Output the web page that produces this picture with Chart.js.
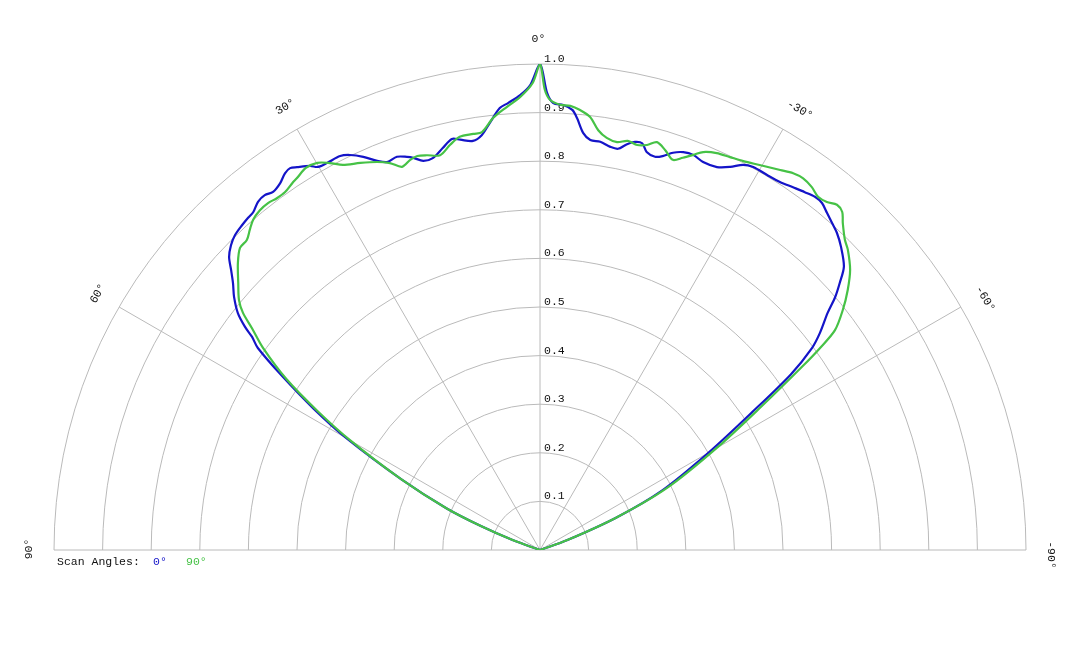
<!DOCTYPE html>
<html><head><meta charset="utf-8">
<script src="https://cdn.jsdelivr.net/npm/chart.js@4.4.0/dist/chart.umd.min.js"></script>
<style>html,body{margin:0;padding:0;background:#fff;}canvas{display:block;}</style>
</head><body>
<canvas id="c" width="1080" height="648"></canvas>
<script>
// ---- data ----
const ringValues = [0.1,0.2,0.3,0.4,0.5,0.6,0.7,0.8,0.9,1.0];
const ringLabels = ['0.1','0.2','0.3','0.4','0.5','0.6','0.7','0.8','0.9','1.0'];
const spokeAngles = [-90,-60,-30,0,30,60,90];
const angleLabels = ['-90°','-60°','-30°','0°','30°','60°','90°'];
const legendTitle = 'Scan Angles:';
const seriesNames = ['0°','90°'];

// scan angle 0° (blue): polar angle (deg, positive = left) and relative intensity
const scan0Angles = [-90,-72,-70,-67,-64,-60,-57,-55,-53.4,-52.2,-50.5,-49.4,-48.3,-47.0,-44.8,-43.1,-41.8,-40.4,-39.1,-37.9,-36.5,-34.9,-33.1,-31.2,-29.1,-27.8,-26.4,-24.8,-22.8,-21.2,-19.8,-18.5,-17.3,-16.3,-15.0,-14.1,-13.1,-12.1,-11.0,-9.9,-8.4,-7.0,-5.9,-4.9,-4.2,-3.0,-1.7,-0.9,0,1.2,2.5,4.1,5.2,6.7,8.0,9.3,11.0,12.1,13.6,15.3,16.7,17.9,18.7,20.0,21.5,22.7,24.2,25.7,26.9,28.8,30.1,30.9,32.4,33.2,34.1,35.3,36.7,37.8,39.0,40.3,41.3,42.5,44.1,45.4,46.7,47.8,49.0,50.4,51.9,52.9,53.5,54.4,56,58,60,63,66,68,70,72,90];
const scan0R = [0,0,0.06,0.17,0.28,0.40,0.52,0.63,0.697,0.729,0.767,0.800,0.826,0.855,0.879,0.894,0.902,0.911,0.920,0.921,0.916,0.910,0.904,0.902,0.902,0.896,0.880,0.868,0.866,0.872,0.870,0.862,0.849,0.843,0.848,0.863,0.862,0.854,0.841,0.842,0.849,0.850,0.863,0.892,0.908,0.917,0.920,0.940,1.0,0.957,0.937,0.922,0.913,0.885,0.862,0.853,0.860,0.865,0.851,0.836,0.836,0.848,0.854,0.861,0.858,0.868,0.887,0.902,0.909,0.909,0.911,0.921,0.933,0.939,0.936,0.925,0.919,0.924,0.922,0.912,0.910,0.907,0.902,0.893,0.879,0.858,0.837,0.817,0.790,0.761,0.737,0.714,0.64,0.55,0.46,0.32,0.21,0.13,0.06,0,0];

// scan angle 90° (green)
const scan90Angles = [-90,-72,-70,-67,-64,-60,-57,-55,-54.2,-53.3,-51.6,-49.8,-47.9,-45.7,-44.5,-42.8,-41.8,-40.7,-39.5,-38.2,-36.8,-35.3,-33.9,-32.3,-29.7,-27.6,-25.8,-24.0,-22.3,-21.2,-20.0,-18.8,-17.4,-16.0,-14.8,-13.5,-12.1,-10.7,-9.2,-7.9,-6.6,-5.2,-3.9,-2.6,-1.3,-0.6,0,0.9,2.5,4.3,6.2,7.9,9.1,11.0,12.5,14.2,16.0,17.3,18.4,19.8,21.2,22.8,24.9,27.1,28.5,29.9,31.5,33.2,34.0,35.5,36.8,38.1,39.5,41.0,42.2,43.4,44.8,46.5,48.5,50.3,51.4,52.4,53.9,56,58,60,63,66,68,70,72,90];
const scan90R = [0,0,0.06,0.17,0.29,0.42,0.545,0.66,0.710,0.757,0.795,0.829,0.860,0.885,0.895,0.917,0.933,0.937,0.928,0.925,0.933,0.937,0.934,0.925,0.912,0.903,0.898,0.894,0.885,0.872,0.859,0.848,0.862,0.873,0.862,0.857,0.861,0.854,0.859,0.872,0.897,0.909,0.916,0.917,0.926,0.947,1.0,0.961,0.933,0.914,0.894,0.868,0.867,0.866,0.854,0.838,0.845,0.849,0.846,0.838,0.854,0.866,0.878,0.890,0.906,0.919,0.922,0.914,0.911,0.904,0.904,0.907,0.906,0.900,0.889,0.878,0.876,0.857,0.829,0.805,0.782,0.748,0.705,0.63,0.54,0.45,0.32,0.21,0.13,0.06,0,0];

const colors = ['#1414c8', '#46c246'];
const FONT = '11.5px "Courier New", "Liberation Mono", monospace';
const LABEL_RADIUS = 1.0515;

function toXY(angles, rs) {
  return angles.map((a, i) => {
    const t = a * Math.PI / 180;
    return { x: -rs[i] * Math.sin(t), y: rs[i] * Math.cos(t) };
  });
}

const polarGrid = {
  id: 'polarGrid',
  beforeDatasetsDraw(chart) {
    const ctx = chart.ctx, xs = chart.scales.x, ys = chart.scales.y;
    const cx = xs.getPixelForValue(0), cy = ys.getPixelForValue(0);
    ctx.save();
    ctx.strokeStyle = '#bababa';
    ctx.lineWidth = 1;
    ringValues.forEach(v => {
      const r = xs.getPixelForValue(v) - cx;
      ctx.beginPath();
      ctx.arc(cx, cy, r, Math.PI, 2 * Math.PI);
      ctx.stroke();
    });
    spokeAngles.forEach(a => {
      const t = a * Math.PI / 180;
      ctx.beginPath();
      ctx.moveTo(cx, cy);
      ctx.lineTo(xs.getPixelForValue(-Math.sin(t)), ys.getPixelForValue(Math.cos(t)));
      ctx.stroke();
    });
    // ring labels (under the curves)
    ctx.font = FONT;
    ctx.fillStyle = '#111';
    ctx.textAlign = 'left';
    ctx.textBaseline = 'alphabetic';
    ringValues.forEach((v, i) => {
      ctx.fillText(ringLabels[i], cx + 4, ys.getPixelForValue(v) - 2);
    });
    ctx.restore();
  },
  afterDatasetsDraw(chart) {
    const ctx = chart.ctx, xs = chart.scales.x, ys = chart.scales.y;
    const cy = ys.getPixelForValue(0);
    ctx.save();
    ctx.font = FONT;
    ctx.fillStyle = '#111';
    // angle labels
    ctx.textAlign = 'center';
    ctx.textBaseline = 'middle';
    spokeAngles.forEach((a, i) => {
      const t = a * Math.PI / 180;
      const px = xs.getPixelForValue(-LABEL_RADIUS * Math.sin(t));
      const py = ys.getPixelForValue(LABEL_RADIUS * Math.cos(t));
      const shift = a < 0 ? 5 : (a > 0 ? 1 : -1.5);
      ctx.save();
      ctx.translate(px, py);
      ctx.rotate(-t);
      ctx.fillText(angleLabels[i], shift, 0);
      ctx.restore();
    });
    // legend
    ctx.textAlign = 'left';
    ctx.textBaseline = 'middle';
    const ly = cy + 12;
    ctx.fillStyle = '#111';
    ctx.fillText(legendTitle, 57, ly);
    ctx.fillStyle = colors[0];
    ctx.fillText(seriesNames[0], 153, ly);
    ctx.fillStyle = colors[1];
    ctx.fillText(seriesNames[1], 186, ly);
    ctx.restore();
  }
};

new Chart(document.getElementById('c'), {
  type: 'scatter',
  data: {
    datasets: [
      { label: seriesNames[0], data: toXY(scan0Angles, scan0R), showLine: true, borderColor: colors[0], borderWidth: 2.2, pointRadius: 0, tension: 0.3, order: 2 },
      { label: seriesNames[1], data: toXY(scan90Angles, scan90R), showLine: true, borderColor: colors[1], borderWidth: 2.2, pointRadius: 0, tension: 0.3, order: 1 }
    ]
  },
  options: {
    responsive: false,
    animation: false,
    layout: { padding: { left: 54, right: 54, top: 64, bottom: 98 } },
    scales: {
      x: { type: 'linear', min: -1, max: 1, display: false },
      y: { type: 'linear', min: 0, max: 1, display: false }
    },
    plugins: { legend: { display: false }, tooltip: { enabled: false } }
  },
  plugins: [polarGrid]
});
</script>
</body></html>
